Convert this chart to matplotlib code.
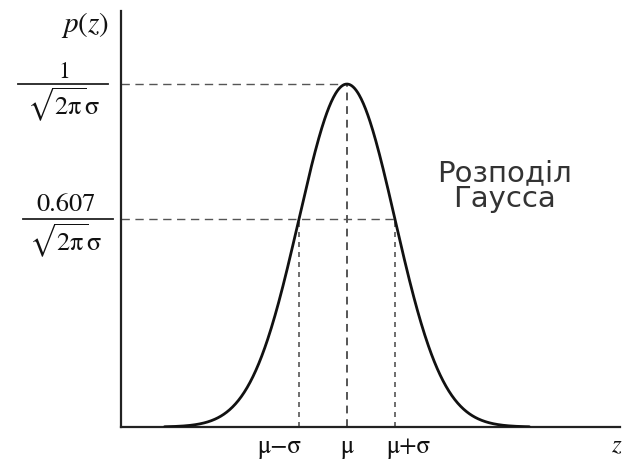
import numpy as np
import matplotlib.pyplot as plt

plt.rcParams['mathtext.fontset'] = 'stix'

# Gaussian in units of sigma, heights in units of 1/(sqrt(2*pi)*sigma)
MU = 0.0
SIGMA = 1.0
levels = [1.0, 0.607]
level_nums = ['1', '0.607']
level_num_sizes = [17, 19]
tick_pos = [-1.0, 0.0, 1.0]
tick_labels = ['μ−σ', 'μ', 'μ+σ']
tick_shift = [-19, 0, 14]          # label nudges, pixels
title_lines = 'Розподіл\nГаусса'

z = np.linspace(MU - 3.8 * SIGMA, MU + 3.8 * SIGMA, 500)
p = np.exp(-0.5 * ((z - MU) / SIGMA) ** 2)

fig = plt.figure(figsize=(6.26, 4.64), dpi=100)
ax = fig.add_axes([121 / 626, 36 / 464, 499 / 626, 416 / 464])
ax.set_xlim(-4.708, 5.69)
ax.set_ylim(0, 1.213)

for side in ('top', 'right'):
    ax.spines[side].set_visible(False)
for side in ('left', 'bottom'):
    ax.spines[side].set_linewidth(1.6)
    ax.spines[side].set_color('#222222')
ax.set_xticks([])
ax.set_yticks([])

ax.plot(z, p, color='#111111', lw=2.0, solid_capstyle='round', zorder=3)

# guide lines
dash = dict(color='#555555', lw=1.0, dashes=(6, 4))
ax.plot([ax.get_xlim()[0], MU], [levels[0], levels[0]], **dash)
ax.plot([MU, MU], [0, levels[0]], color='#555555', lw=1.4, dashes=(4, 3))
ax.plot([ax.get_xlim()[0], MU + SIGMA], [levels[1], levels[1]], **dash)
for x in (MU - SIGMA, MU + SIGMA):
    ax.plot([x, x], [0, levels[1]], color='#555555', lw=1.2, dashes=(3, 3))

# y labels: fractions left of the axis
ytr = ax.get_yaxis_transform()
bar_x = [(-0.206, -0.026), (-0.196, -0.016)]
num_dy = [13, 15]
den_dy = [-20, -21]
cx = [-57, -55]
denom = r'$\sqrt{2\mathrm{\pi}}\mathrm{\sigma}$'
for lv, num, fs, bx, ndy, ddy, c in zip(levels, level_nums, level_num_sizes,
                                        bar_x, num_dy, den_dy, cx):
    ax.plot(bx, [lv, lv], color='#222222', lw=1.3, transform=ytr, clip_on=False)
    ax.annotate(num, (0, lv), xycoords=ytr, xytext=(c, ndy),
                textcoords='offset pixels', ha='center', va='center',
                fontsize=fs, family='STIXGeneral', color='#111111')
    ax.annotate(denom, (0, lv), xycoords=ytr, xytext=(c, ddy),
                textcoords='offset pixels', ha='center', va='center',
                fontsize=19, color='#111111')

ax.annotate(r'$p(z)$', (0, 1.175), xycoords=ytr, xytext=(-36, 0),
            textcoords='offset pixels', ha='center', va='center',
            fontsize=21, color='#111111')

# x labels
xtr = ax.get_xaxis_transform()
for xp, lab, sh in zip(tick_pos, tick_labels, tick_shift):
    ax.annotate(lab, (xp, 0), xycoords=xtr, xytext=(sh, -19),
                textcoords='offset pixels', ha='center', va='center',
                fontsize=18, family='STIXGeneral', color='#111111')
ax.annotate(r'$z$', (5.62, 0), xycoords=xtr, xytext=(0, -17),
            textcoords='offset pixels', ha='center', va='center',
            fontsize=18, color='#111111')

ax.text(3.29, 0.705, title_lines, ha='center', va='center', fontsize=21,
        family='DejaVu Sans', color='#333333', linespacing=0.88)

fig.savefig('out.png', dpi=100)
